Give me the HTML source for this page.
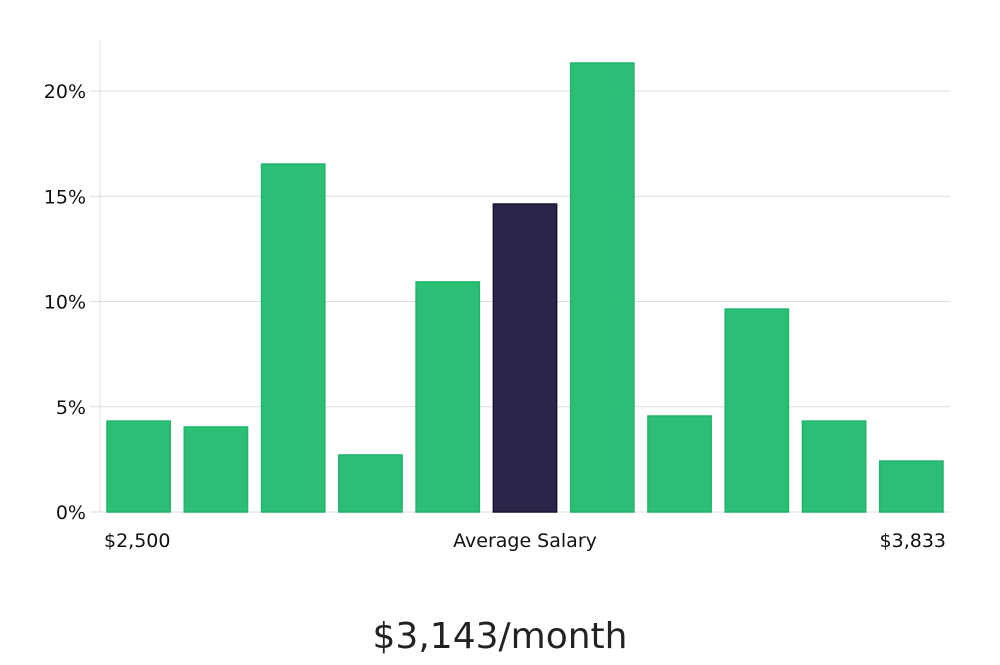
<!DOCTYPE html>
<html><head><meta charset="utf-8"><style>
body{margin:0;background:#fff;font-family:"Liberation Sans","DejaVu Sans",sans-serif;}
svg text{font-family:"DejaVu Sans","Liberation Sans",sans-serif;}
</style></head><body>
<svg id="c" width="1000" height="660">
<g id="grid"></g><g id="bars"></g><g id="labels"></g>
</svg>
<script>
const categories=["b1","b2","b3","b4","b5","b6","b7","b8","b9","b10","b11"];
const values=[4.32,4.04,16.53,2.71,10.93,14.63,21.33,4.56,9.64,4.32,2.42];
const highlight=[0,0,0,0,0,1,0,0,0,0,0];
const yTicks=[0,5,10,15,20];
const yTickLabels=["0%","5%","10%","15%","20%"];
const xLabels=["$2,500","Average Salary","$3,833"];
const summary="$3,143/month";
const NS="http://www.w3.org/2000/svg";
const x0=100,x1=950,yBase=512,yPer=21.05;
const band=(x1-x0)/categories.length;
const xs=i=>x0+i*band+7;
const ys=v=>yBase-v*yPer;
function mk(t,a,p){const e=document.createElementNS(NS,t);for(const k in a)e.setAttribute(k,a[k]);p.appendChild(e);return e;}
const g=document.getElementById('grid'),b=document.getElementById('bars'),l=document.getElementById('labels');
const ax=mk('line',{x1:x0,x2:x0,y1:40,y2:yBase,stroke:'#ddd'},g);


yTicks.forEach((t,i)=>{
 const ln=mk('line',{x1:90,x2:x1,y1:ys(t),y2:ys(t),stroke:'#ddd'},g);
 
 
 const tx=mk('text',{x:86,y:ys(t)+7,'text-anchor':'end','font-size':19,fill:'#111'},g);
 tx.textContent=yTickLabels[i];
 
 
});
values.forEach((v,i)=>{
 const r=mk('rect',{x:xs(i),y:ys(v),width:band-14,height:yBase-ys(v),fill:highlight[i]?'#29264a':'#2bbf75',stroke:highlight[i]?'#15132e':'#22b46a','stroke-width':1.5},b);
 
 
});
[[104,'start'],[525,'middle'],[946,'end']].forEach((p,i)=>{
 const t=mk('text',{x:p[0],y:547,'text-anchor':p[1],'font-size':19,fill:'#111'},l);
 t.textContent=xLabels[i];
 
 
});
const s=mk('text',{x:500,y:648,'text-anchor':'middle','font-size':36,fill:'#222'},l);
s.textContent=summary;


</script>
</body></html>
